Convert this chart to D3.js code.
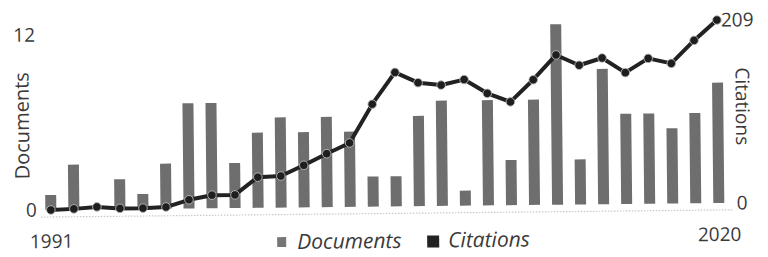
<!DOCTYPE html>
<html><head><meta charset="utf-8">
<script src="https://cdn.jsdelivr.net/npm/d3@7"></script>
<style>
html,body{margin:0;padding:0;background:#fff;}
svg{display:block;}
text{font-family:"Open Sans",Lato,sans-serif;fill:#3a3a3a;}
</style></head>
<body>
<svg id="chart" width="768" height="257"></svg>
<script>
const years = d3.range(1991, 2021);
const documents = [1,3,0,2,1,3,7,7,3,5,6,5,6,5,2,2,6,7,1,7,3,7,12,3,9,6,6,5,6,8];
const citations = [0,1,3,1,1,2,10,15,15,35,36,48,61,73,117,153,141,138,144,128,118,143,171,159,167,150,166,160,186,209];
const docTicks = [0, 12];
const citTicks = [0, 209];
const yearTicks = [1991, 2020];
const legendItems = ["Documents", "Citations"];

const svg = d3.select("#chart");
const g = svg.append("g").attr("transform", "rotate(-0.6 384 128)");

const x = d3.scalePoint().domain(years).range([50, 718]);
const yDoc = d3.scaleLinear().domain([0, 12]).range([206.5, 26]);
const yCit = d3.scaleLinear().domain([0, 209]).range([206.5, 23.5]);

// dotted baseline
g.append("line").attr("x1", 40).attr("x2", 732).attr("y1", 213.5).attr("y2", 213.5)
  .attr("stroke", "#c8c8c8").attr("stroke-width", 1.2).attr("stroke-dasharray", "1.5,1.5");

// bars
const bw = 11;
g.append("g").selectAll("rect").data(years).join("rect")
  .attr("x", d => x(d) - bw / 2)
  .attr("width", bw)
  .attr("y", (d, i) => yDoc(documents[i]))
  .attr("height", (d, i) => yDoc(0) - yDoc(documents[i]))
  .attr("fill", "#6e6e6e");

// citations line
const line = d3.line().x((d, i) => x(years[i])).y(d => yCit(d));
g.append("path").datum(citations).attr("d", line)
  .attr("fill", "none").attr("stroke", "#222").attr("stroke-width", 4).attr("stroke-linejoin", "round");
g.append("g").selectAll("circle").data(citations).join("circle")
  .attr("cx", (d, i) => x(years[i])).attr("cy", d => yCit(d))
  .attr("r", 4.3).attr("fill", "#1e1e1e").attr("stroke", "#bbb").attr("stroke-width", 0.9);

// left axis
const la = g.append("g").attr("transform", "translate(36,0)")
  .call(d3.axisLeft(yDoc).tickValues(docTicks).tickSize(0).tickPadding(0));
la.select(".domain").remove();
la.selectAll("text").style("font-size", "19px").attr("fill", "#3a3a3a")
  .attr("dy", d => d === 12 ? "0.6em" : "0.32em");

// right axis
const ra = g.append("g").attr("transform", "translate(722,0)")
  .call(d3.axisRight(yCit).tickValues(citTicks).tickSize(0).tickPadding(0));
ra.select(".domain").remove();
ra.selectAll("text").style("font-size", "19px").attr("fill", "#3a3a3a")
  .attr("dx", d => d === 0 ? "14px" : "0");

// bottom axis
const ba = g.append("g").attr("transform", "translate(0,231)")
  .call(d3.axisBottom(x).tickValues(yearTicks).tickSize(0).tickPadding(0));
ba.select(".domain").remove();
ba.selectAll("text").style("font-size", "19px").attr("fill", "#3a3a3a");

// axis titles
g.append("text").attr("transform", "translate(29,122) rotate(-90)")
  .attr("text-anchor", "middle").style("font-size", "20px").text("Documents");
g.append("text").attr("transform", "translate(736,110) rotate(90)")
  .attr("text-anchor", "middle").style("font-size", "19px").text("Citations");

// legend
const legColors = ["#767676", "#222"];
const legX = [276, 426];
const lg = g.append("g").selectAll("g").data(legendItems).join("g")
  .attr("transform", (d, i) => `translate(${legX[i]},246)`);
lg.append("rect").attr("x", 0).attr("y", -10).attr("width", (d, i) => i ? 12 : 9).attr("height", (d, i) => i ? 12 : 10)
  .attr("fill", (d, i) => legColors[i]);
lg.append("text").attr("x", (d, i) => i ? 21 : 20).attr("y", 2).style("font-size", "21px").style("font-style", "italic")
  .text(d => d);
</script>
</body></html>
